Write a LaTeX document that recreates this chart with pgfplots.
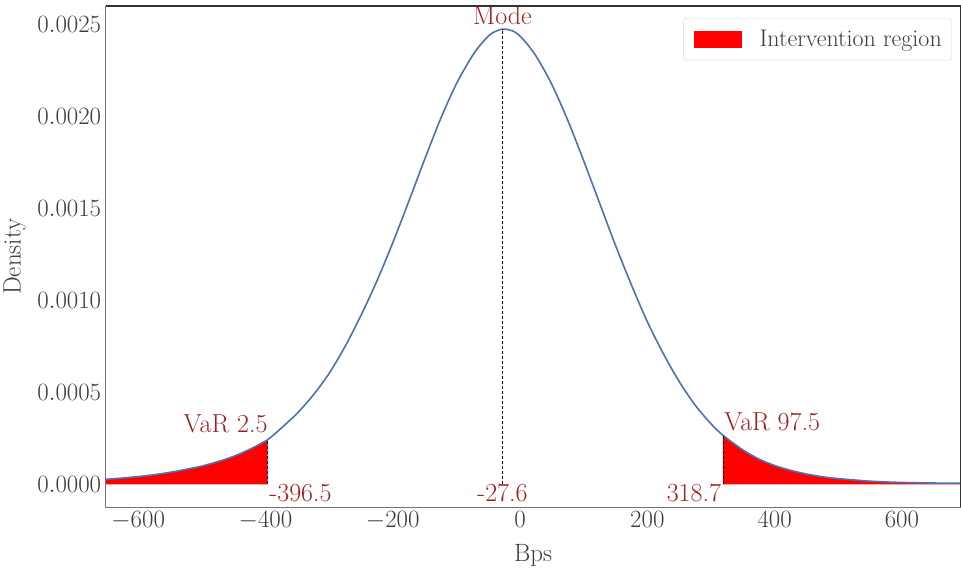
\documentclass[border=0pt]{standalone}
\usepackage{pgfplots}
\pgfplotsset{compat=1.18}
\usepackage{pgfplotstable}

\definecolor{annot}{RGB}{160,30,32}
\definecolor{curve}{RGB}{76,114,176}
\definecolor{tickc}{RGB}{60,60,60}

\pgfplotstableread{
x y
-651 0.000028
-625 0.000035
-600 0.000043
-575 0.000053
-550 0.000066
-525 0.000082
-500 0.000100
-475 0.000124
-450 0.000153
-425 0.000191
-396.5 0.000244
-375 0.000307
-350 0.000388
-325 0.000486
-300 0.000604
-275 0.000750
-250 0.000919
-225 0.001106
-200 0.001314
-175 0.001538
-150 0.001767
-125 0.001987
-100 0.002179
-75 0.002331
-60 0.002400
-45 0.002452
-27.6 0.002476
-10 0.002464
5 0.002420
25 0.002330
50 0.002175
75 0.001980
100 0.001760
125 0.001530
150 0.001300
175 0.001085
200 0.000885
225 0.000712
250 0.000560
275 0.000432
300 0.000330
318.7 0.000268
350 0.000188
375 0.000139
400 0.000103
425 0.000077
450 0.000057
475 0.000042
500 0.000032
550 0.000018
600 0.000011
650 0.000008
692 0.000007
}\density

\pgfplotstableread{
x y
-651 0
-651 0.000028
-625 0.000035
-600 0.000043
-575 0.000053
-550 0.000066
-525 0.000082
-500 0.000100
-475 0.000124
-450 0.000153
-425 0.000191
-396.5 0.000244
-396.5 0
}\lefttail

\pgfplotstableread{
x y
318.7 0
318.7 0.000268
350 0.000188
375 0.000139
400 0.000103
425 0.000077
450 0.000057
475 0.000042
500 0.000032
550 0.000018
600 0.000011
650 0.000008
692 0.000007
692 0
}\righttail

\begin{document}
\begin{tikzpicture}
\begin{axis}[
  scale only axis,
  width=854.8pt, height=501.3pt,
  xmin=-651, xmax=692,
  ymin=-0.000124, ymax=0.002602,
  xtick={-600,-400,-200,0,200,400,600},
  ytick={0,0.0005,0.001,0.0015,0.002,0.0025},
  scaled y ticks=false,
  yticklabel style={/pgf/number format/fixed, /pgf/number format/fixed zerofill, /pgf/number format/precision=4, xshift=-1pt},
  major tick length=0pt,
  tick label style={font=\fontsize{24}{27}\selectfont, text=tickc},
  xticklabel style={yshift=-1pt},
  axis line style={draw=none},
  xlabel={Bps}, ylabel={Density},
  label style={font=\fontsize{25}{28}\selectfont, text=tickc},
  xlabel style={at={(axis description cs:0.5,0)}, anchor=base, yshift=-54pt},
  ylabel style={at={(axis description cs:0,0.5)}, anchor=center, yshift=91pt},
  legend style={at={(rel axis cs:0.990,0.976)}, anchor=north east,
    draw=black!15, rounded corners=3pt, fill=white,
    inner xsep=10pt, inner ysep=12pt, column sep=18pt,
    font=\fontsize{24}{27}\selectfont, text=tickc,
    nodes={inner sep=0pt}},
  clip=false,
]
\addplot[fill=red, draw=none,
  legend image code/.code={\fill[red, sharp corners] (0pt,-8.5pt) rectangle (48pt,8.5pt);}]
  table[x=x,y=y] {\lefttail};
\addlegendentry{Intervention region}
\addplot[fill=red, draw=none, forget plot] table[x=x,y=y] {\righttail};
\addplot[curve, line width=1.6pt, smooth, forget plot] table[x=x,y=y] {\density};
\addplot[black, line width=0.7pt, dash pattern=on 3pt off 2pt, forget plot] coordinates {(-27.6,0) (-27.6,0.002476)};
\addplot[black, line width=0.7pt, dash pattern=on 3pt off 2pt, forget plot] coordinates {(-396.5,0) (-396.5,0.000244)};
\addplot[black, line width=0.7pt, dash pattern=on 3pt off 2pt, forget plot] coordinates {(318.7,0) (318.7,0.000268)};

\node[text=annot, font=\fontsize{26}{29}\selectfont, inner sep=0pt, anchor=base] at (axis cs:-27.6,0.0025) {Mode};
\node[text=annot, font=\fontsize{26}{29}\selectfont, inner sep=0pt, anchor=base east] at (axis cs:-396.5,0.000281) {VaR 2.5};
\node[text=annot, font=\fontsize{26}{29}\selectfont, inner sep=0pt, anchor=base west] at (axis cs:320.5,0.000294) {VaR 97.5};
\node[text=annot, font=\fontsize{26}{29}\selectfont, inner sep=0pt, anchor=base west] at (axis cs:-394,-0.0000924) {-396.5};
\node[text=annot, font=\fontsize{26}{29}\selectfont, inner sep=0pt, anchor=base] at (axis cs:-27.6,-0.0000924) {-27.6};
\node[text=annot, font=\fontsize{26}{29}\selectfont, inner sep=0pt, anchor=base east] at (axis cs:316,-0.0000924) {318.7};

\draw[black!80, line width=1.1pt] (rel axis cs:0,1) -- (rel axis cs:1,1) -- (rel axis cs:1,0);
\draw[black!55, line width=1.1pt] (rel axis cs:0,1) -- (rel axis cs:0,0) -- (rel axis cs:1,0);
\end{axis}
\pgfresetboundingbox
\path (-105.7pt,-62.7pt) rectangle (855.3pt,507.3pt);
\end{tikzpicture}
\end{document}
